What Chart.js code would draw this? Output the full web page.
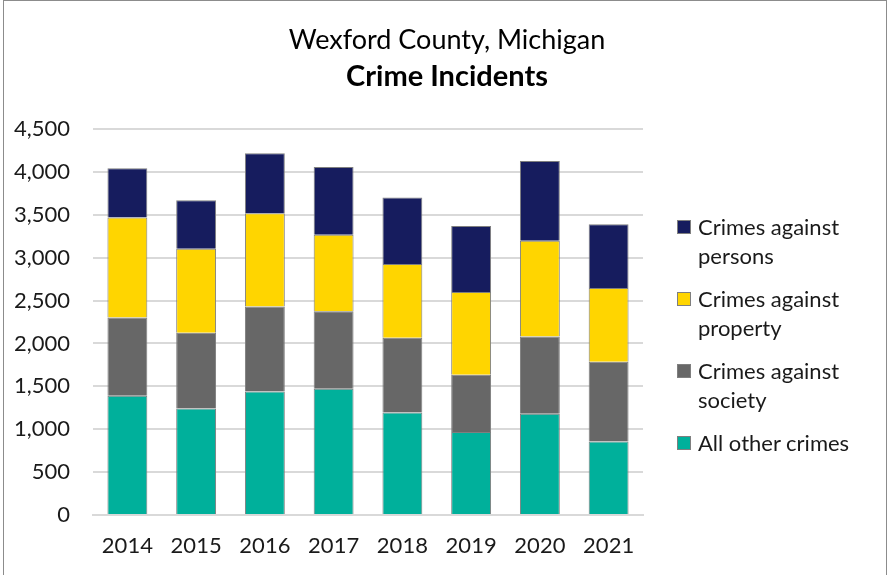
<!DOCTYPE html>
<html>
<head>
<meta charset="utf-8">
<script src="https://cdn.jsdelivr.net/npm/chart.js@4.4.0/dist/chart.umd.min.js"></script>
<style>
  body { margin: 0; background: #fff; }
  .wrap { position: relative; width: 888px; height: 575px; overflow: hidden; }
  .frame { position: absolute; left: 3px; top: 0; width: 884px; height: 576px; box-sizing: border-box; border: 1px solid #8c8c8c; }
  canvas { position: absolute; left: 0; top: 0; }
  .legend { position: absolute; left: 677px; top: 212px; font-family: Lato, sans-serif; font-size: 22px; color: #1a1a1a; }
  .legend-item { display: flex; align-items: flex-start; margin-bottom: 14px; line-height: 29px; }
  .legend-box { width: 14px; height: 14px; margin-top: 8px; margin-right: 7px; box-sizing: border-box; border: 1px solid #7f7f7f; flex: none; }
</style>
</head>
<body>
<div class="wrap">
  <div class="frame"></div>
  <canvas id="chart" width="888" height="575"></canvas>
  <div class="legend" id="legend"></div>
</div>
<script>
// Data
const years = ['2014', '2015', '2016', '2017', '2018', '2019', '2020', '2021'];
const allOther = [1389, 1241, 1440, 1471, 1195, 969, 1179, 856];
const society = [914, 884, 992, 903, 871, 665, 903, 930];
const property = [1164, 980, 1085, 894, 860, 965, 1116, 860];
const persons = [576, 564, 701, 790, 774, 771, 930, 743];

const titleLines = ['Wexford County, Michigan', 'Crime Incidents'];

const series = [
  { label: 'All other crimes', data: allOther, color: '#00b09b' },
  { label: 'Crimes against society', data: society, color: '#676767' },
  { label: 'Crimes against property', data: property, color: '#ffd500' },
  { label: 'Crimes against persons', data: persons, color: '#161c5e' }
];

const font = "Lato, 'Open Sans', sans-serif";

// Legend (two-line labels like the original), top series first
const legendEl = document.getElementById('legend');
const legendText = {
  'Crimes against persons': 'Crimes against<br>persons',
  'Crimes against property': 'Crimes against<br>property',
  'Crimes against society': 'Crimes against<br>society',
  'All other crimes': 'All other crimes'
};
series.slice().reverse().forEach(s => {
  const div = document.createElement('div');
  div.className = 'legend-item';
  div.innerHTML = `<span class="legend-box" style="background:${s.color}"></span><span>${legendText[s.label]}</span>`;
  legendEl.appendChild(div);
});

// Title centred on the whole canvas, not just the plot
const titlePlugin = {
  id: 'centerTitle',
  afterDraw(chart) {
    const c = chart.ctx;
    c.save();
    c.fillStyle = '#000';
    c.textAlign = 'center';
    c.textBaseline = 'middle';
    c.font = `normal 27px ${font}`;
    c.fillText(titleLines[0], 447, 40);
    c.font = `bold 29px ${font}`;
    c.fillText(titleLines[1], 447, 77);
    c.restore();
  }
};

const ctx = document.getElementById('chart').getContext('2d');
new Chart(ctx, {
  type: 'bar',
  data: {
    labels: years,
    datasets: series.map(s => ({
      label: s.label,
      data: s.data,
      backgroundColor: s.color,
      borderColor: '#7f7f7f',
      borderWidth: 1,
      categoryPercentage: 1,
      barPercentage: 0.58
    }))
  },
  plugins: [titlePlugin],
  options: {
    responsive: false,
    animation: false,
    layout: { padding: { left: 10, right: 245, top: 129, bottom: 0 } },
    plugins: {
      legend: { display: false },
      tooltip: { enabled: false }
    },
    scales: {
      x: {
        stacked: true,
        grid: { display: false, drawTicks: false },
        border: { color: '#d9d9d9', width: 2 },
        ticks: { color: '#1a1a1a', font: { family: font, size: 22 }, padding: 18 },
        afterFit: (s) => { s.height = 60; }
      },
      y: {
        stacked: true,
        min: 0,
        max: 4500,
        ticks: { stepSize: 500, color: '#1a1a1a', font: { family: font, size: 22 }, padding: 23 },
        grid: { color: '#d9d9d9', lineWidth: 2, drawTicks: false },
        border: { display: false },
        afterFit: (s) => { s.width = 83; }
      }
    }
  }
});
</script>
</body>
</html>
